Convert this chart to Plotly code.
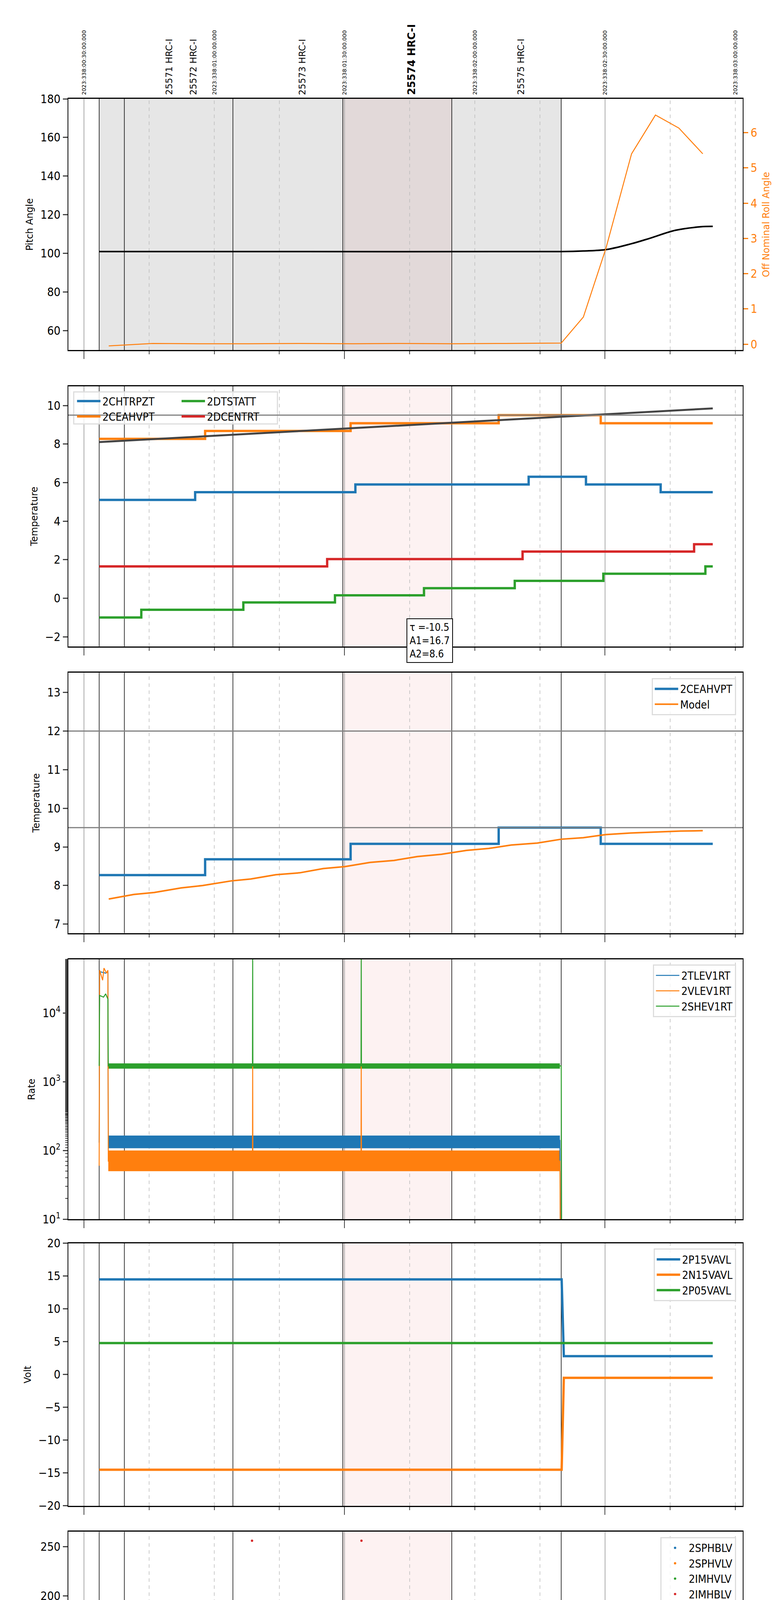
import numpy as np
import pandas as pd
import plotly.graph_objects as go

T0 = pd.Timestamp("2023-12-04 19:30:00")
def tt(m):
    return [T0 + pd.Timedelta(minutes=float(v)) for v in m]

# ---------------- data (time in minutes after 19:30 local) ----------------
obs_bounds = [3.5, 9.3, 34.3, 59.6, 84.7, 109.9]
obs_labels = ["25571 HRC-I", "25572 HRC-I", "25573 HRC-I", "25574 HRC-I", "25575 HRC-I"]
obs_label_t = [19.6, 25.2, 50.3, 75.4, 100.6]
date_labels = ["2023:338:00:30:00.000", "2023:338:01:00:00.000", "2023:338:01:30:00.000",
               "2023:338:02:00:00.000", "2023:338:02:30:00.000", "2023:338:03:00:00.000"]
date_label_t = [0, 30, 60, 90, 120, 150]
focus_start, focus_end = 59.6, 84.7

pitch_t = [3.5, 50, 109.9, 115, 120.2, 126, 130.5, 136.2, 142, 144.8]
pitch_v = [101, 101, 101, 101.3, 102, 105, 108, 112, 113.8, 114]
roll_t = [5.7, 15.8, 27, 38, 50, 62, 73, 85, 97, 109.9, 115, 120.2, 126.1, 131.6, 137, 142.5]
roll_v = [-0.05, 0.02, 0.01, 0.01, 0.02, 0.01, 0.02, 0.01, 0.02, 0.03, 0.77, 2.72, 5.4, 6.5, 6.13, 5.4]

chtrpzt_t = [3.5, 25.6, 62.5, 102.4, 115.6, 132.8, 144.8]
chtrpzt_v = [5.1, 5.5, 5.9, 6.3, 5.9, 5.5, 5.5]
ceahvpt_t = [3.5, 27.9, 61.4, 95.5, 119.0, 144.8]
ceahvpt_v = [8.27, 8.68, 9.08, 9.5, 9.08, 9.08]
dtstatt_t = [3.5, 13.2, 36.7, 57.8, 78.3, 99.2, 119.6, 143.1, 144.8]
dtstatt_v = [-1.0, -0.6, -0.22, 0.15, 0.52, 0.9, 1.27, 1.65, 1.65]
dcentrt_t = [3.5, 56.0, 101.0, 140.5, 144.8]
dcentrt_v = [1.65, 2.03, 2.42, 2.8, 2.8]
trend_t = [3.5, 144.8]
trend_v = [8.1, 9.85]
limits_p2 = [9.5]
fit_text = "τ =-10.5<br>A1=16.7<br>A2=8.6"

model_t = [5.7, 11.5, 16.2, 22.4, 27.3, 33.9, 38.4, 44.2, 49.7, 55.1, 60.1, 65.9, 71.4, 76.8, 82.3, 88.1, 93.2, 98.4, 104.4, 109.9, 115.0, 120.2, 125.9, 130.5, 137.4, 142.5]
model_v = [7.65, 7.77, 7.82, 7.94, 8.0, 8.12, 8.17, 8.28, 8.33, 8.44, 8.49, 8.6, 8.65, 8.75, 8.81, 8.91, 8.96, 9.05, 9.1, 9.2, 9.24, 9.32, 9.36, 9.38, 9.41, 9.42]
limits_p3 = [12.0, 9.5]

rate_names = ["2TLEV1RT", "2VLEV1RT", "2SHEV1RT"]
rate_band_lo = [108, 50, 1550]
rate_band_hi = [165, 100, 1850]
rate_path_t = {
    "2TLEV1RT": [3.5, 3.6, 5.0, 5.5, 5.6, 109.6, 109.7],
    "2VLEV1RT": [3.5, 3.6, 4.3, 4.6, 5.2, 5.5, 5.6, 38.8, 38.85, 38.9, 63.8, 63.85, 63.9, 109.6, 109.7],
    "2SHEV1RT": [3.5, 3.6, 4.5, 5.0, 5.5, 5.6, 38.8, 38.85, 38.9, 63.8, 63.85, 63.9, 109.9, 110.0],
}
rate_path_v = {
    "2TLEV1RT": [130, 40000, 38000, 40000, 140, 140, 5],
    "2VLEV1RT": [60, 42000, 30000, 45000, 38000, 42000, 70, 70, 1700, 70, 70, 1700, 70, 70, 5],
    "2SHEV1RT": [1700, 18000, 17000, 19000, 16000, 1700, 1700, 70000, 1700, 1700, 70000, 1700, 1700, 5],
}

volt_names = ["2P15VAVL", "2N15VAVL", "2P05VAVL"]
volt_t = {"2P15VAVL": [3.5, 110.0, 110.5, 144.8], "2N15VAVL": [3.5, 110.0, 110.5, 144.8], "2P05VAVL": [3.5, 144.8]}
volt_v = {"2P15VAVL": [14.5, 14.5, 2.8, 2.8], "2N15VAVL": [-14.5, -14.5, -0.5, -0.5], "2P05VAVL": [4.8, 4.8]}

hv_names = ["2SPHBLV", "2SPHVLV", "2IMHVLV", "2IMHBLV"]
hv_level = [80, 81, 79, 86]
hv_span = [3.5, 110.0]
hv_outlier_t = {"2IMHVLV": [5.3], "2IMHBLV": [38.7, 63.9]}
hv_outlier_v = {"2IMHVLV": [128], "2IMHBLV": [256, 256]}

det_names = ["2SPINATM", "2SPHVATM", "2IMINATM", "2IMHVATM"]
det_t = {
    "2SPINATM": [3.5, 4.6, 4.7, 5.3, 5.4, 57.9, 110.0],
    "2SPHVATM": [3.5, 4.3, 5.5, 8.4, 33.0, 34.7, 34.8, 60.3, 88.0, 110.0],
    "2IMINATM": [3.5, 4.6, 5.4, 25.2, 78.7, 110.0],
    "2IMHVATM": [3.5, 4.3, 5.5, 8.1, 25.2, 38.8, 38.9, 45.6, 63.8, 63.9, 71.2, 95.0, 110.2, 110.3],
}
det_v = {
    "2SPINATM": [4.1, 1.0, 1.0, 4.1, 4.1, 4.55, 4.55],
    "2SPHVATM": [16.1, 11.1, 16.1, 16.4, 16.7, 16.3, 16.7, 16.95, 17.25, 17.25],
    "2IMINATM": [2.35, 4.2, 2.35, 2.75, 3.2, 3.2],
    "2IMHVATM": [17.25, 16.1, 17.25, 17.55, 17.85, 0.0, 17.85, 18.1, 0.0, 18.1, 18.4, 18.7, 30.0, 0.0],
}

fea_names = ["2FHTRMZT", "2FRADPYT", "2FEPRATM", "2FE00ATM"]
fea_t = {
    "2FHTRMZT": [3.5, 5.2, 17.9, 21.1, 21.3, 30.2, 42.8, 56.5, 70.1, 84.9, 88.3, 88.5, 99.3, 135.8, 144.8],
    "2FRADPYT": [3.5, 12.4, 26.1, 40.1, 54.8, 70.1, 86.4, 103.3, 123.3, 135.7, 144.8],
    "2FEPRATM": [3.5, 5.4, 5.6, 19.6, 33.8, 49.1, 64.8, 82.0, 99.5, 109.9],
    "2FE00ATM": [3.5, 3.6, 5.4, 5.6, 10.9, 11.0, 15.6, 22.4, 22.5, 25.3, 35.3, 38.8, 38.9, 45.3, 50.8, 50.9,
                 54.0, 54.1, 56.3, 64.0, 64.1, 65.9, 66.0, 67.1, 71.2, 71.3, 78.6, 79.2, 79.3, 89.8, 91.7, 91.8, 102.2, 110.1, 110.2],
}
fea_v = {
    "2FHTRMZT": [-1.0, -0.62, -0.25, 0.55, -0.25, 0.13, 0.5, 0.88, 1.27, 1.63, -0.3, 1.63, 2.02, 1.63, 1.63],
    "2FRADPYT": [-3.3, -2.92, -2.53, -2.15, -1.76, -1.38, -1.0, -0.62, -1.0, -1.38, -1.38],
    "2FEPRATM": [1.95, -4.5, 2.37, 2.37, 2.78, 3.23, 3.67, 4.12, 4.57, 5.03],
    "2FE00ATM": [2.0, 7.0, 2.0, 2.32, 3.55, 2.32, 2.62, 2.3, 2.62, 2.93, 3.23, -4.5, 3.23, 3.53, 3.85, 3.53,
                 4.17, 3.53, 3.83, -4.5, 3.83, 4.15, 3.83, 4.13, 3.5, 4.13, 4.43, 3.5, 4.43, 4.7, 5.05, 4.7, 5.0, 7.0, -4.5],
}

C = ["#1f77b4", "#ff7f0e", "#2ca02c", "#d62728"]

# ---------------- layout geometry ----------------
W, H = 2000, 6200
ML, MR, MT, MB = 167, 106, 245, 110
PH = H - MT - MB
panels_px = [(245, 893), (986, 1657), (1725, 2396), (2464, 3134), (3196, 3873), (3940, 4613), (4682, 5351), (5420, 6090)]
def dom(a, b):
    return [1 - (b - MT) / PH, 1 - (a - MT) / PH]

XR = tt([-3.6, 151.7])
TICKF = dict(family="Liberation Sans Narrow, DejaVu Sans Condensed, sans-serif", size=30, color="black")
TITF = dict(family="DejaVu Sans, sans-serif", size=24, color="black")

fig = go.Figure()

def add(trace, i):
    trace.update(xaxis="x" if i == 1 else f"x{i}", yaxis="y" if i == 1 else f"y{i}")
    fig.add_trace(trace)

def step(name, t, v, color, i, legend, width=6, shape="hv", show=True):
    add(go.Scatter(x=tt(t), y=v, mode="lines", name=name, line=dict(color=color, width=width, shape=shape),
                   legend=legend, showlegend=show), i)

# panel 1
add(go.Scatter(x=tt(pitch_t), y=pitch_v, mode="lines", line=dict(color="black", width=4, shape="spline"), showlegend=False), 1)
fig.add_trace(go.Scatter(x=tt(roll_t), y=roll_v, mode="lines", line=dict(color=C[1], width=2.5), showlegend=False,
                         xaxis="x", yaxis="y9"))
# panel 2
step("2CHTRPZT", chtrpzt_t, chtrpzt_v, C[0], 2, "legend2")
step("2CEAHVPT", ceahvpt_t, ceahvpt_v, C[1], 2, "legend2")
step("2DTSTATT", dtstatt_t, dtstatt_v, C[2], 2, "legend9")
step("2DCENTRT", dcentrt_t, dcentrt_v, C[3], 2, "legend9")
add(go.Scatter(x=tt(trend_t), y=trend_v, mode="lines", line=dict(color="#444444", width=5), showlegend=False), 2)
# panel 3
step("2CEAHVPT", ceahvpt_t, ceahvpt_v, C[0], 3, "legend3")
add(go.Scatter(x=tt(model_t), y=model_v, mode="lines", name="Model", line=dict(color=C[1], width=4), legend="legend3"), 3)
# panel 4
for k, nm in enumerate(rate_names):
    add(go.Scatter(x=tt([5.6, 109.6, 109.6, 5.6]), y=[rate_band_lo[k], rate_band_lo[k], rate_band_hi[k], rate_band_hi[k]],
                   fill="toself", fillcolor=C[k], mode="lines", line=dict(width=0, color=C[k]), showlegend=False, hoverinfo="skip"), 4)
for k, nm in enumerate(rate_names):
    add(go.Scatter(x=tt(rate_path_t[nm]), y=rate_path_v[nm], mode="lines", name=nm, line=dict(color=C[k], width=2.5),
                   legend="legend4"), 4)
# panel 5
for k, nm in enumerate(volt_names):
    add(go.Scatter(x=tt(volt_t[nm]), y=volt_v[nm], mode="lines", name=nm, line=dict(color=C[k], width=6), legend="legend5"), 5)
# panel 6
hv_t = np.arange(hv_span[0], hv_span[1], 0.2)
for k, nm in enumerate(hv_names):
    xs = list(hv_t) + hv_outlier_t.get(nm, [])
    ys = [hv_level[k]] * len(hv_t) + hv_outlier_v.get(nm, [])
    add(go.Scatter(x=tt(xs), y=ys, mode="markers", name=nm, marker=dict(color=C[k], size=6), legend="legend6"), 6)
# panel 7
for k, nm in enumerate(det_names):
    step(nm, det_t[nm], det_v[nm], C[k], 7, "legend7", shape="linear")
# panel 8
for k, nm in enumerate(fea_names):
    step(nm, fea_t[nm], fea_v[nm], C[k], 8, "legend8", shape="hv")

# ---------------- axes ----------------
ranges = [[50, 180], [-2.5, 11], [6.77, 13.51], [1, 4.78], [-20, 20], [0, 265], [1.31, 19.91], [-4, 6.05]]
titles = ["Pitch Angle", "Temperature", "Temperature", "Rate", "Volt", "HV Monitor", "Detector Temp", "FEA Temp"]
dticks = [20, 2, 1, None, 5, 50, 2.5, 2]
tick15 = list(np.arange(0, 151, 15))
hour_ticks = [m for m in tick15 if m % 60 == 0]
hour_text = ["<br>%dh" % (20 + int(m // 60)) for m in hour_ticks]
minor_ticks = [m for m in tick15 if m % 60 != 0]
for i in range(1, 9):
    a, b = panels_px[i - 1]
    xa = dict(domain=[0, 1], range=XR, type="date", showgrid=False, zeroline=False,
              showline=True, linecolor="black", linewidth=3, mirror=True, ticks="outside",
              tickvals=tt(hour_ticks), ticktext=hour_text, showticklabels=(i == 8),
              ticklen=20, tickwidth=2, tickfont=TICKF, anchor="y" if i == 1 else f"y{i}",
              minor=dict(tickvals=tt(minor_ticks), ticks="outside", ticklen=8, tickwidth=2, showgrid=False))
    if i == 8:
        xa["title"] = dict(text="2023-12-04 (338)", font=dict(family=TICKF["family"], size=36), standoff=10)
    if i > 1:
        xa["matches"] = "x"
    ya = dict(domain=dom(a, b), range=ranges[i - 1], title=dict(text=titles[i - 1], font=TITF, standoff=12),
              showgrid=False, zeroline=False, showline=True, linecolor="black", linewidth=2, mirror=True,
              ticks="outside", ticklen=12, tickwidth=3, tickfont=TICKF, anchor="x" if i == 1 else f"x{i}")
    if i == 4:
        ya.update(type="log", tickvals=[10, 100, 1000, 10000], ticktext=["10<sup>1</sup>", "10<sup>2</sup>", "10<sup>3</sup>", "10<sup>4</sup>"],
                  minor=dict(ticks="outside", ticklen=6, tickwidth=2, showgrid=False))
    else:
        ya.update(dtick=dticks[i - 1], tick0=0)
        if i == 7:
            ya["tickformat"] = ".1f"
    if i == 1:
        ya["mirror"] = False
        fig.update_layout(xaxis=xa, yaxis=ya)
    else:
        fig.update_layout(**{f"xaxis{i}": xa, f"yaxis{i}": ya})

fig.update_layout(yaxis9=dict(overlaying="y", side="right", anchor="x", range=[-0.17, 6.96], dtick=1,
                              showgrid=False, zeroline=False, showline=True, linecolor="black", linewidth=2,
                              ticks="outside", ticklen=12, tickwidth=3, tickcolor=C[1],
                              tickfont=dict(family=TICKF["family"], size=30, color=C[1]),
                              title=dict(text="Off Nominal Roll Angle", font=dict(family=TITF["family"], size=24, color=C[1]))))

# ---------------- shapes ----------------
shapes = []
for i in range(1, 9):
    xr = "x" if i == 1 else f"x{i}"
    yr = ("y" if i == 1 else f"y{i}") + " domain"
    if i == 1:
        shapes.append(dict(type="rect", xref=xr, yref=yr, x0=tt([obs_bounds[0]])[0], x1=tt([obs_bounds[-1]])[0],
                           y0=0, y1=1, fillcolor="rgba(128,128,128,0.2)", line_width=0, layer="below"))
        shapes.append(dict(type="rect", xref=xr, yref=yr, x0=tt([focus_start])[0], x1=tt([focus_end])[0],
                           y0=0, y1=1, fillcolor="rgba(200,120,120,0.12)", line_width=0, layer="below"))
    else:
        shapes.append(dict(type="rect", xref=xr, yref=yr, x0=tt([focus_start])[0], x1=tt([focus_end])[0],
                           y0=0, y1=1, fillcolor="rgba(240,128,128,0.1)", line_width=0, layer="below"))
    for m in tick15:
        if m % 60 == 0:
            shapes.append(dict(type="line", xref=xr, yref=yr, x0=tt([m])[0], x1=tt([m])[0], y0=0, y1=1,
                               line=dict(color="#aaaaaa", width=2), layer="below"))
        else:
            shapes.append(dict(type="line", xref=xr, yref=yr, x0=tt([m])[0], x1=tt([m])[0], y0=0, y1=1,
                               line=dict(color="#bbbbbb", width=1.5, dash="dash"), layer="below"))
    for b in obs_bounds:
        shapes.append(dict(type="line", xref=xr, yref=yr, x0=tt([b])[0], x1=tt([b])[0], y0=0, y1=1,
                           line=dict(color="black", width=1.5), layer="below"))
for lv in limits_p2:
    shapes.append(dict(type="line", xref="x2 domain", yref="y2", x0=0, x1=1, y0=lv, y1=lv, line=dict(color="gray", width=3)))
for lv in limits_p3:
    shapes.append(dict(type="line", xref="x3 domain", yref="y3", x0=0, x1=1, y0=lv, y1=lv, line=dict(color="gray", width=3)))
d2 = dom(*panels_px[1])
h2 = d2[1] - d2[0]
shapes.append(dict(type="rect", xref="paper", yref="paper", x0=0.008, x1=0.31, y0=d2[1] - 0.145 * h2, y1=d2[1] - 0.022 * h2,
                   line=dict(color="#dddddd", width=3), fillcolor="rgba(255,255,255,0.8)", layer="between"))
fig.update_layout(shapes=shapes)

# ---------------- annotations ----------------
ann = []
for t, s in zip(date_label_t, date_labels):
    ann.append(dict(x=tt([t])[0], y=1, xref="x", yref="paper", yshift=8, text=s, textangle=-90, showarrow=False,
                    xanchor="center", yanchor="bottom", font=dict(family="DejaVu Sans", size=14, color="black")))
for t, s in zip(obs_label_t, obs_labels):
    bold = s.startswith("25574")
    ann.append(dict(x=tt([t])[0], y=1, xref="x", yref="paper", yshift=8, text="<b>%s</b>" % s if bold else s,
                    textangle=-90, showarrow=False, xanchor="center", yanchor="bottom",
                    font=dict(family="DejaVu Sans", size=26 if bold else 23, color="black")))
for m in minor_ticks:
    ann.append(dict(x=tt([m])[0], y=0, xref="x8", yref="y8 domain", yshift=-14, text=str(int(m % 60)), showarrow=False,
                    xanchor="center", yanchor="top", font=dict(family=TICKF["family"], size=20, color="black")))
ann.append(dict(x=tt([79.6])[0], y=-1.05, xref="x2", yref="y2", text=fit_text, showarrow=False, align="left",
                xanchor="center", yanchor="top", bordercolor="black", borderwidth=2, bgcolor="white", borderpad=6,
                font=dict(family=TICKF["family"], size=26, color="black")))
fig.update_layout(annotations=ann)

# ---------------- legends ----------------
LF = dict(family=TICKF["family"], size=28, color="black")
def leg(i, x, xanchor, border=True):
    d = dom(*panels_px[i - 1])
    return dict(x=x, y=d[1] - 0.02 * (d[1] - d[0]), xanchor=xanchor, yanchor="top", font=LF,
                bgcolor="rgba(255,255,255,0.8)" if border else "rgba(0,0,0,0)",
                bordercolor="#dddddd" if border else "rgba(0,0,0,0)", borderwidth=3 if border else 0,
                itemwidth=60, tracegroupgap=4)
fig.update_layout(
    legend2=leg(2, 0.01, "left", border=False),
    legend9=leg(2, 0.165, "left", border=False),
    legend3=leg(3, 0.99, "right"),
    legend4=leg(4, 0.99, "right"),
    legend5=leg(5, 0.99, "right"),
    legend6=leg(6, 0.99, "right"),
    legend7=leg(7, 0.99, "right"),
    legend8=leg(8, 0.99, "right"),
    showlegend=True,
)
fig.update_layout(width=W, height=H, margin=dict(l=ML, r=MR, t=MT, b=MB),
                  paper_bgcolor="white", plot_bgcolor="white")
fig.write_html("out.html")
